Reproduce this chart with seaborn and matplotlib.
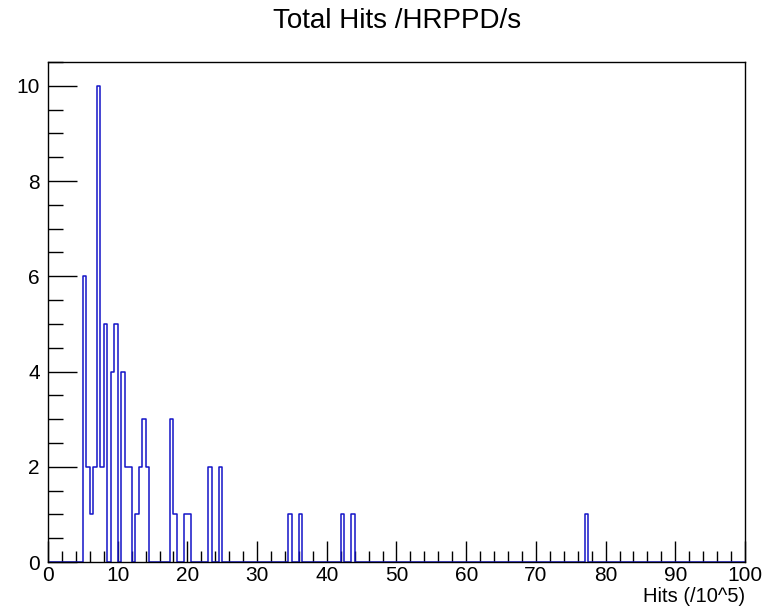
import numpy as np
import pandas as pd
import matplotlib
matplotlib.use("Agg")
import matplotlib.pyplot as plt
import seaborn as sns
from matplotlib.ticker import MultipleLocator

# Bin lower edges (width 0.5) and counts for non-empty bins
bin_lows = [5.0, 5.5, 6.0, 6.5, 7.0, 7.5, 8.0, 9.0, 9.5, 10.5, 11.0, 11.5,
            12.5, 13.0, 13.5, 14.0, 17.5, 18.0, 19.5, 20.0, 23.0, 24.5,
            34.5, 36.0, 42.0, 43.5, 77.0]
counts = [6, 2, 1, 2, 10, 2, 5, 4, 5, 4, 2, 2,
          1, 2, 3, 2, 3, 1, 1, 1, 2, 2,
          1, 1, 1, 1, 1]
bin_width = 0.5
x_range = (0, 100)
title = "Total Hits /HRPPD/s"
xlabel = "Hits (/10^5)"

df = pd.DataFrame({"x": np.array(bin_lows) + bin_width / 2, "w": counts})

sns.set_style("white")
plt.rcParams["font.family"] = ["Liberation Sans", "DejaVu Sans"]
plt.rcParams["text.color"] = "black"

fig = plt.figure(figsize=(7.82, 6.07), dpi=100)
ax = fig.add_axes([48 / 782, 1 - 562 / 607, (745 - 48) / 782, (562 - 62) / 607])

sns.histplot(data=df, x="x", weights="w", binwidth=bin_width, binrange=x_range,
             element="step", fill=False, color="#1414c8", linewidth=1.1, ax=ax)

ax.set_xlim(*x_range)
ax.set_ylim(0, 10.5)
ax.xaxis.set_major_locator(MultipleLocator(10))
ax.xaxis.set_minor_locator(MultipleLocator(2))
ax.yaxis.set_major_locator(MultipleLocator(2))
ax.yaxis.set_minor_locator(MultipleLocator(0.5))
ax.tick_params(axis="x", which="major", direction="in", length=15, width=1, colors="black",
               labelsize=15, pad=3)
ax.tick_params(axis="x", which="minor", direction="in", length=8, width=1, color="black")
ax.tick_params(axis="y", which="major", direction="in", length=21, width=1, colors="black",
               labelsize=15, pad=6)
ax.tick_params(axis="y", which="minor", direction="in", length=11, width=1, color="black")
ax.tick_params(bottom=True, left=True, top=False, right=False, which="both")
for s in ax.spines.values():
    s.set_visible(True)
    s.set_color("black")
    s.set_linewidth(1)

ax.set_xlabel("")
ax.set_ylabel("")
fig.text(745 / 782, 1 - 602 / 607, xlabel, ha="right", va="baseline", fontsize=14.5,
         color="black")
fig.text(397 / 782, 1 - 28 / 607, title, ha="center", va="baseline", fontsize=20,
         color="black")

fig.savefig("out.png", dpi=100)
